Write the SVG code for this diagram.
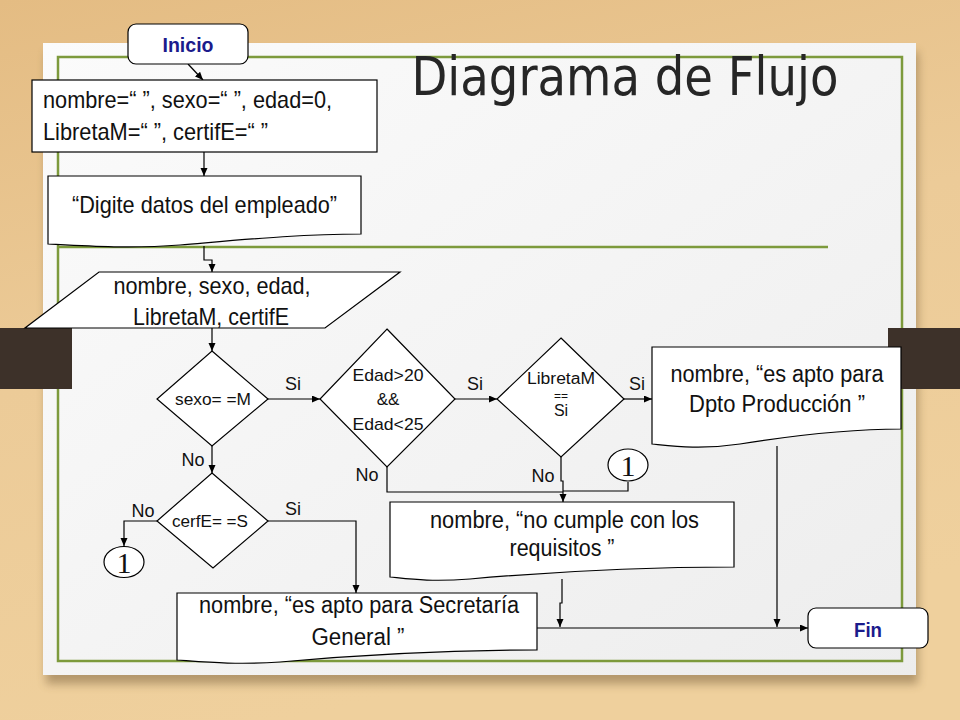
<svg xmlns="http://www.w3.org/2000/svg" width="960" height="720" viewBox="0 0 960 720">
<defs>
  <linearGradient id="wood" x1="0" y1="0" x2="0.3" y2="1">
    <stop offset="0" stop-color="#e4bc83"/>
    <stop offset="0.5" stop-color="#eccb98"/>
    <stop offset="1" stop-color="#efd09d"/>
  </linearGradient>
  <linearGradient id="paper" x1="0" y1="0" x2="1" y2="1">
    <stop offset="0" stop-color="#fbfbfb"/>
    <stop offset="1" stop-color="#ededed"/>
  </linearGradient>
  <filter id="shadow" x="-10%" y="-10%" width="120%" height="125%">
    <feGaussianBlur stdDeviation="5"/>
  </filter>
  <marker id="arr" markerUnits="userSpaceOnUse" markerWidth="9" markerHeight="8" refX="8" refY="3.5" orient="auto">
    <path d="M0,0 L8,3.5 L0,7 Z" fill="#000"/>
  </marker>
  <style>
    .shape{fill:#fff;stroke:#000;stroke-width:1.2}
    .t{font-family:"Liberation Sans Narrow","Liberation Sans",Arial,sans-serif;fill:#111;text-anchor:middle}
    .b{font-size:24px}
    .m{font-size:23px}
    .d{font-size:17px}
    .lbl{font-family:"Liberation Sans",Arial,sans-serif;font-size:18px;fill:#111;text-anchor:middle}
    .term{font-family:"Liberation Sans Narrow","Liberation Sans",Arial,sans-serif;font-weight:bold;font-size:21px;fill:#1b1b8c;text-anchor:middle}
    .one{font-family:"Liberation Serif","Times New Roman",serif;font-size:30px;fill:#111;text-anchor:middle}
    .conn path{fill:none;stroke:#000;stroke-width:1.2}
    .frame{fill:none;stroke:#7d9a3c;stroke-width:2.5}
  </style>
</defs>

<!-- background -->
<rect x="0" y="0" width="960" height="720" fill="url(#wood)"/>
<rect x="46" y="52" width="872" height="632" fill="#6b5233" opacity="0.45" filter="url(#shadow)"/>
<rect x="43" y="43" width="873" height="632" fill="url(#paper)"/>
<rect x="58" y="57" width="844" height="604" class="frame"/>
<line x1="58" y1="247" x2="828" y2="247" stroke="#7d9a3c" stroke-width="2.5"/>
<rect x="0" y="328" width="72" height="61" fill="#3d3129"/>
<rect x="888" y="328" width="72" height="61" fill="#3d3129"/>

<text x="625" y="95" font-family="DejaVu Sans,Verdana,sans-serif" font-size="53" fill="#262626" text-anchor="middle" textLength="427" lengthAdjust="spacingAndGlyphs">Diagrama de Flujo</text>

<!-- connectors -->
<g id="connectors" class="conn">
  <path d="M188,64 L203,80" marker-end="url(#arr)"/>
  <path d="M204,152 V176" marker-end="url(#arr)"/>
  <path d="M204,246 V260 H212 V272" marker-end="url(#arr)"/>
  <path d="M212,328 V351" marker-end="url(#arr)"/>
  <path d="M268,399 H320" marker-end="url(#arr)"/>
  <path d="M212,446 V473" marker-end="url(#arr)"/>
  <path d="M455,399 H497" marker-end="url(#arr)"/>
  <path d="M624,399 H652" marker-end="url(#arr)"/>
  <path d="M387,467 V492 H563"/>
  <path d="M561,457 V481 H563 V502" marker-end="url(#arr)"/>
  <path d="M628,482 V491 H563"/>
  <path d="M157,521 H124 V546" marker-end="url(#arr)"/>
  <path d="M268,521 H356 V593" marker-end="url(#arr)"/>
  <path d="M537,628 H808" marker-end="url(#arr)"/>
  <path d="M562,579 V603 H560 V627" marker-end="url(#arr)"/>
  <path d="M777,446 V627" marker-end="url(#arr)"/>
</g>

<g id="inicio">
  <rect x="128" y="24" width="120" height="40" rx="8" class="shape"/>
  <text x="188" y="52" class="term" textLength="51" lengthAdjust="spacingAndGlyphs">Inicio</text>
</g>

<g id="init">
  <rect x="32" y="80" width="345" height="72" class="shape"/>
  <text x="43" y="108" class="t b" style="text-anchor:start" textLength="289" lengthAdjust="spacingAndGlyphs">nombre=“ ”, sexo=“ ”, edad=0,</text>
  <text x="43" y="140" class="t b" style="text-anchor:start" textLength="225" lengthAdjust="spacingAndGlyphs">LibretaM=“ ”, certifE=“ ”</text>
</g>

<g id="digite">
  <path d="M48,176 H361 V234 C300,234 240,240 180,245 C130,249 85,246 48,244 Z" class="shape"/>
  <text x="204.5" y="213" class="t b" textLength="265" lengthAdjust="spacingAndGlyphs">“Digite datos del empleado”</text>
</g>

<g id="leer">
  <path d="M99,272 H400 L325,328 H25 Z" class="shape"/>
  <text x="212" y="294" class="t b" textLength="197" lengthAdjust="spacingAndGlyphs">nombre, sexo, edad,</text>
  <text x="211" y="325" class="t b" textLength="156" lengthAdjust="spacingAndGlyphs">LibretaM, certifE</text>
</g>

<g id="sexo">
  <path d="M212,351 L268,399 L212,446 L157,399 Z" class="shape"/>
  <text x="213" y="405" class="t d" textLength="76" lengthAdjust="spacingAndGlyphs">sexo= =M</text>
</g>

<g id="edad">
  <path d="M387,329 L455,399 L387,467 L320,399 Z" class="shape"/>
  <text x="388" y="381" class="t d" textLength="71" lengthAdjust="spacingAndGlyphs">Edad&gt;20</text>
  <text x="388" y="405" class="t d">&amp;&amp;</text>
  <text x="388" y="430" class="t d" textLength="71" lengthAdjust="spacingAndGlyphs">Edad&lt;25</text>
</g>

<g id="libreta">
  <path d="M561,338 L624,399 L561,457 L497,399 Z" class="shape"/>
  <text x="561" y="384" class="t" style="font-size:16px" textLength="68" lengthAdjust="spacingAndGlyphs">LibretaM</text>
  <text x="561" y="400" class="t" style="font-size:12px">==</text>
  <text x="561" y="416" class="t" style="font-size:16px">Si</text>
</g>

<g id="cerf">
  <path d="M212,473 L268,521 L213,568 L157,521 Z" class="shape"/>
  <text x="210" y="527" class="t" style="font-size:16px" textLength="76" lengthAdjust="spacingAndGlyphs">cerfE= =S</text>
</g>

<g id="dpto">
  <path d="M652,347 H901 V429 C845,429 790,436 740,444 C700,450 672,446 652,444 Z" class="shape"/>
  <text x="777" y="382" class="t m" textLength="213" lengthAdjust="spacingAndGlyphs">nombre, “es apto para</text>
  <text x="777" y="412" class="t m" textLength="176" lengthAdjust="spacingAndGlyphs">Dpto Producción ”</text>
</g>

<g id="nocumple">
  <path d="M390,502 H734 V567 C660,567 560,571 470,579 C430,582 410,579 390,577 Z" class="shape"/>
  <text x="564.5" y="528" class="t m" textLength="269" lengthAdjust="spacingAndGlyphs">nombre, “no cumple con los</text>
  <text x="562" y="556" class="t m" textLength="105" lengthAdjust="spacingAndGlyphs">requisitos ”</text>
</g>

<g id="secretaria">
  <path d="M177,593 H537 V650 C460,650 370,654 280,662 C235,665 205,662 177,660 Z" class="shape"/>
  <text x="359" y="613" class="t m" textLength="320" lengthAdjust="spacingAndGlyphs">nombre, “es apto para Secretaría</text>
  <text x="358" y="645" class="t m" textLength="93" lengthAdjust="spacingAndGlyphs">General ”</text>
</g>

<g id="c1a">
  <ellipse cx="628" cy="465" rx="20" ry="16" class="shape"/>
  <text x="628" y="476" class="one">1</text>
</g>

<g id="c1b">
  <ellipse cx="124" cy="562" rx="20" ry="15.5" class="shape"/>
  <text x="124" y="573" class="one">1</text>
</g>

<g id="fin">
  <rect x="808" y="608" width="120" height="40" rx="8" class="shape"/>
  <text x="868" y="637" class="term" textLength="28" lengthAdjust="spacingAndGlyphs">Fin</text>
</g>

<g id="labels">
  <text x="293" y="390" class="lbl">Si</text>
  <text x="475" y="390" class="lbl">Si</text>
  <text x="637" y="390" class="lbl">Si</text>
  <text x="193" y="466" class="lbl">No</text>
  <text x="367" y="481" class="lbl">No</text>
  <text x="543" y="482" class="lbl">No</text>
  <text x="143" y="517" class="lbl">No</text>
  <text x="293" y="515" class="lbl">Si</text>
</g>
</svg>
